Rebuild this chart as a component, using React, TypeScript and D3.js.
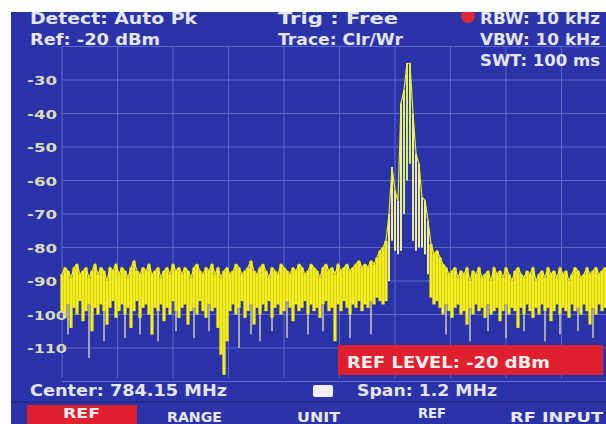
import React from "react";
import * as d3 from "d3";

const W = 606;
const H = 424;

// Spectrum trace, one sample per frequency bin (peak detector: max / min per bin), dBm
const traceTop = [
  -88,-86,-87,-89,-86,-85,-88,-87,-86,-89,-87,-85,-88,-86,-87,-90,-86,-87,-85,-88,
  -86,-87,-89,-86,-84,-87,-88,-86,-87,-85,-88,-87,-86,-89,-87,-86,-88,-85,-87,-86,
  -88,-86,-87,-89,-86,-85,-87,-88,-86,-87,-85,-88,-86,-89,-87,-86,-88,-87,-85,-86,
  -88,-87,-86,-84,-87,-88,-86,-85,-87,-89,-86,-87,-88,-85,-86,-87,-88,-86,-87,-85,
  -86,-88,-87,-85,-86,-87,-89,-86,-85,-87,-86,-88,-85,-87,-86,-85,-87,-86,-85,-84,
  -86,-85,-86,-84,-85,-83,-81,-80,
  -78,-70,-56,-63,-66,-37,-33,-25,-25,-40,-52,-55,-65,-66,-72,-79,-82,
  -81,-83,-85,-86,-88,-87,-86,-89,-87,-88,-86,-90,-87,-88,-86,-89,-88,-87,-90,-86,
  -88,-87,-89,-86,-88,-90,-87,-86,-88,-89,-87,-88,-86,-90,-88,-87,-89,-86,-88,-87,
  -89,-86,-88,-87,-90,-88,-86,-87,-89,-88,-86,-88,-87,-86,-88,-87,-86,
];

const traceBottom = [
  -99,-101,-97,-104,-98,-100,-96,-102,-99,-97,-105,-98,-100,-97,-99,-103,-98,-96,-101,-99,
  -97,-100,-98,-104,-99,-96,-101,-98,-97,-100,-106,-98,-99,-97,-102,-98,-100,-96,-99,-101,
  -98,-97,-103,-99,-98,-100,-96,-99,-101,-97,-99,-98,-104,-112,-118,-108,-99,-97,-100,-98,
  -96,-101,-99,-97,-103,-98,-100,-97,-99,-96,-101,-98,-97,-100,-99,-96,-98,-102,-97,-99,
  -98,-96,-100,-97,-99,-98,-101,-97,-96,-99,-98,-108,-97,-99,-96,-98,-100,-97,-98,-96,
  -99,-97,-98,-96,-97,-95,-96,-97,
  -96,-90,-78,-81,-82,-81,-70,-60,-55,-78,-81,-80,-80,-82,-88,-95,-97,
  -96,-98,-100,-97,-99,-101,-98,-97,-100,-99,-103,-98,-100,-97,-99,-98,-101,-97,-100,-99,
  -98,-102,-99,-97,-100,-98,-99,-104,-98,-100,-97,-99,-101,-98,-100,-97,-99,-98,-102,-99,
  -97,-100,-98,-99,-101,-97,-99,-98,-100,-97,-99,-103,-98,-100,-97,-99,-98,
];

// Deep minima (bin index, dBm) shown as pale spikes below the noise band
const spikeBins = [2, 9, 14, 21, 26, 32, 38, 44, 49, 59, 63, 66, 70, 75, 82, 87, 96, 103, 128, 136, 142, 148, 154, 161, 166, 172, 177];
const spikeLows = [-106, -113, -108, -107, -106, -108, -105, -107, -105, -110, -106, -108, -105, -107, -106, -105, -107, -106, -106, -108, -105, -107, -105, -108, -106, -105, -107];

const yTickValues = [-30, -40, -50, -60, -70, -80, -90, -100, -110];
const startFreq = 783.55; // MHz
const spanMHz = 1.2;
const binsPerSpan = 185;

const headerTexts = [
  { t: "Detect: Auto Pk", x: 30, y: 24, w: 167 },
  { t: "Ref: -20 dBm", x: 30, y: 45, w: 130 },
  { t: "Trig  : Free", x: 278, y: 24, w: 120 },
  { t: "Trace: Clr/Wr", x: 278, y: 45, w: 125 },
  { t: "RBW: 10 kHz", x: 480, y: 24, w: 120 },
  { t: "VBW: 10 kHz", x: 480, y: 45, w: 120 },
  { t: "SWT: 100 ms", x: 480, y: 66, w: 120 },
];

const footerTexts = [
  { t: "Center: 784.15 MHz", x: 30, y: 396, w: 197 },
  { t: "Span: 1.2 MHz", x: 357, y: 396, w: 140 },
];

const buttonTexts = [
  { t: "REF", x: 63, y: 418, w: 37 },
  { t: "RANGE", x: 167, y: 422, w: 55 },
  { t: "UNIT", x: 297, y: 422, w: 43 },
  { t: "REF", x: 418, y: 418, w: 28 },
  { t: "RF INPUT", x: 510, y: 422, w: 93 },
];

export default function App() {
  const x = d3.scaleLinear().domain([startFreq, startFreq + spanMHz]).range([62, 617]);
  const y = d3.scaleLinear().domain([-20, -120]).range([46.5, 381.5]);
  const binFreq = (i: number) => startFreq + (i * spanMHz) / binsPerSpan;

  const gridX = d3.range(0, 11).map((k) => startFreq + (k * spanMHz) / 10);
  const gridY = d3.range(-20, -121, -10);

  const bg = "#2a34a8";
  const font = "'DejaVu Sans', sans-serif";

  return (
    <svg width={W} height={H} style={{ position: "fixed", top: 0, left: 0, display: "block" }}>
      <defs>
        <clipPath id="plot">
          <rect x={60} y={47} width={W - 60} height={333} />
        </clipPath>
        <filter id="soft" x="-5%" y="-5%" width="110%" height="110%">
          <feGaussianBlur stdDeviation="0.5" />
        </filter>
      </defs>
      <rect x={0} y={0} width={W} height={H} fill={bg} />

      {/* grid */}
      <g stroke="#6a7ad6" strokeWidth={1} opacity={0.75}>
        {gridX.map((f, k) => (
          <line key={"gx" + k} x1={x(f)} x2={x(f)} y1={47} y2={378} />
        ))}
        {gridY.map((v, k) => (
          <line key={"gy" + k} x1={62} x2={W} y1={y(v)} y2={y(v)} />
        ))}
      </g>

      {/* trace */}
      <g clipPath="url(#plot)" filter="url(#soft)">
        {spikeBins.map((b, k) => (
          <line
            key={"s" + k}
            x1={x(binFreq(b))}
            x2={x(binFreq(b))}
            y1={y(traceBottom[b])}
            y2={y(spikeLows[k])}
            stroke="#c4c4ae"
            strokeWidth={1.6}
          />
        ))}
        {traceTop.map((v, i) => {
          const cx = x(binFreq(i));
          const signal = v > -76;
          if (signal) {
            return (
              <line
                key={"t" + i}
                x1={cx}
                x2={cx}
                y1={y(v)}
                y2={y(traceBottom[i])}
                stroke={v > -35 ? "#d8ec70" : "#eeee9a"}
                strokeWidth={2}
              />
            );
          }
          return (
            <rect
              key={"t" + i}
              x={cx - 1.6}
              width={3.2}
              y={y(v)}
              height={y(traceBottom[i]) - y(v)}
              fill="#f4ee18"
            />
          );
        })}
        <path
          d={
            d3
              .line<number>()
              .x((_, i) => x(binFreq(i)))
              .y((v) => y(v))(traceTop) || ""
          }
          fill="none"
          stroke="#f4ee18"
          strokeWidth={1.2}
        />
      </g>

      {/* y tick labels */}
      <g fill="#dcdcb8" fontFamily={font} fontWeight="bold" fontSize={13}>
        {yTickValues.map((v) => {
          const s = String(v);
          return (
            <text key={v} x={27} y={y(v) + 5} textLength={s.length * 10} lengthAdjust="spacingAndGlyphs">
              {s}
            </text>
          );
        })}
      </g>

      {/* header */}
      <circle cx={468} cy={16} r={7} fill="#e0243a" />
      <g fill="#e4e6f4" fontFamily={font} fontWeight="bold" fontSize={15}>
        {headerTexts.map((d, k) => (
          <text key={k} x={d.x} y={d.y} textLength={d.w} lengthAdjust="spacingAndGlyphs">
            {d.t}
          </text>
        ))}
      </g>

      {/* ref level box */}
      <rect x={338} y={345} width={265} height={30} fill="#e0202e" />
      <text x={347} y={368} fill="#f4f0f0" fontFamily={font} fontWeight="bold" fontSize={16} textLength={203} lengthAdjust="spacingAndGlyphs">
        REF LEVEL: -20 dBm
      </text>

      {/* footer */}
      <rect x={313} y={385} width={20} height={12} fill="#f0f0f8" rx={2} />
      <g fill="#e4e6f4" fontFamily={font} fontWeight="bold" fontSize={15}>
        {footerTexts.map((d, k) => (
          <text key={k} x={d.x} y={d.y} textLength={d.w} lengthAdjust="spacingAndGlyphs">
            {d.t}
          </text>
        ))}
      </g>
      <line x1={11} x2={W} y1={402} y2={402} stroke="#222a88" strokeWidth={2} />

      {/* soft-key buttons */}
      <rect x={27} y={405} width={110} height={19} fill="#e0202e" />
      <g fill="#e8eaf6" fontFamily={font} fontWeight="bold" fontSize={14}>
        {buttonTexts.map((d, k) => (
          <text key={k} x={d.x} y={d.y} textLength={d.w} lengthAdjust="spacingAndGlyphs">
            {d.t}
          </text>
        ))}
      </g>

      {/* white image border */}
      <rect x={0} y={0} width={W} height={12} fill="#ffffff" />
      <rect x={0} y={0} width={11} height={H} fill="#ffffff" />
    </svg>
  );
}
